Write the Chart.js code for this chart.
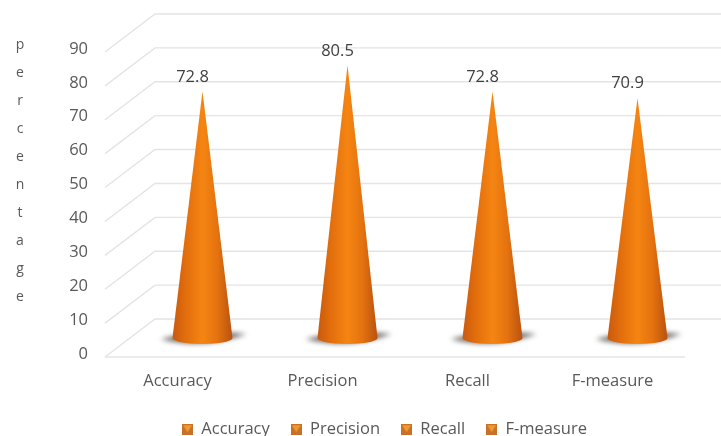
<!DOCTYPE html>
<html>
<head>
<meta charset="utf-8">
<style>
  html, body { margin: 0; padding: 0; background: #fff; }
  canvas { display: block; }
</style>
<script src="https://cdn.jsdelivr.net/npm/chart.js@4"></script>
</head>
<body>
<canvas id="grafica" width="721" height="436"></canvas>
<script>
const categorias = ["Accuracy", "Precision", "Recall", "F-measure"];
const valores = [72.8, 80.5, 72.8, 70.9];
const etiquetas = ["72.8", "80.5", "72.8", "70.9"];
const letrasEje = ["p", "e", "r", "c", "e", "n", "t", "a", "g", "e"];

const colorTexto = "#595959";
const colorGrid = "#e4e4e4";
const fuente = '"Open Sans", sans-serif';

// icono de la leyenda
function crearIcono() {
  const c = document.createElement("canvas");
  c.width = 11;
  c.height = 11;
  const g = c.getContext("2d");
  g.fillStyle = "#c9702a";
  g.fillRect(0, 0, 11, 11);
  g.fillStyle = "#f09a2c";
  g.beginPath();
  g.moveTo(1, 1);
  g.lineTo(10, 1);
  g.lineTo(5.5, 8);
  g.closePath();
  g.fill();
  return c;
}
const icono = crearIcono();

// la leyenda del original no esta centrada
const moverLeyenda = {
  id: "moverLeyenda",
  afterLayout(chart) {
    chart.legend.left += 42;
    chart.legend.right += 42;
  },
};

// paredes 3D: lineas de grid con profundidad
const paredes = {
  id: "paredes",
  beforeDatasetsDraw(chart) {
    const { ctx, scales } = chart;
    const dx = 50, dy = -38;
    const izq = scales.x.left, der = scales.x.right;
    ctx.save();
    ctx.strokeStyle = colorGrid;
    ctx.lineWidth = 1.4;
    scales.y.ticks.forEach((t) => {
      const y = scales.y.getPixelForValue(t.value);
      ctx.beginPath();
      ctx.moveTo(izq, y);
      ctx.lineTo(izq + dx, y + dy);
      ctx.lineTo(der + dx, y + dy);
      ctx.stroke();
    });
    const y0 = scales.y.getPixelForValue(0);
    ctx.beginPath();
    ctx.moveTo(izq, y0);
    ctx.lineTo(der, y0);
    ctx.stroke();
    ctx.restore();
  },
};

// conos encima de las barras (las barras son transparentes)
const conos = {
  id: "conos",
  afterDatasetsDraw(chart) {
    const { ctx } = chart;
    const dx = 25, dy = -19;
    chart.getDatasetMeta(0).data.forEach((barra, i) => {
      const cx = barra.x + dx;
      const tip = barra.y + dy;
      const base = barra.base + dy;
      const r = barra.width / 2;
      const ry = 6;

      // sombra
      ctx.save();
      ctx.filter = "blur(2.5px)";
      ctx.fillStyle = "#6f6a66";
      ctx.beginPath();
      ctx.moveTo(cx - r - 12, base + 1);
      ctx.quadraticCurveTo(cx, base - 9, cx + r + 14, base - 4);
      ctx.quadraticCurveTo(cx, base + 12, cx - r - 12, base + 1);
      ctx.fill();
      ctx.restore();

      // cuerpo
      const grad = ctx.createLinearGradient(cx - r, 0, cx + r, 0);
      grad.addColorStop(0, "#c9590f");
      grad.addColorStop(0.2, "#e06c0c");
      grad.addColorStop(0.5, "#f58512");
      grad.addColorStop(0.75, "#e4720f");
      grad.addColorStop(1, "#b9520f");
      ctx.fillStyle = grad;
      ctx.beginPath();
      ctx.moveTo(cx, tip);
      ctx.lineTo(cx + r, base);
      ctx.ellipse(cx, base, r, ry, 0, 0, Math.PI);
      ctx.closePath();
      ctx.fill();

      // etiqueta de valor
      ctx.fillStyle = "#404040";
      ctx.font = "16.5px " + fuente;
      ctx.textAlign = "center";
      ctx.textBaseline = "middle";
      ctx.fillText(etiquetas[i], cx - 10, tip - 14);
    });
  },
};

// titulo vertical letra por letra
const tituloEje = {
  id: "tituloEje",
  afterDraw(chart) {
    const { ctx } = chart;
    ctx.save();
    ctx.fillStyle = colorTexto;
    ctx.font = "14px " + fuente;
    ctx.textAlign = "center";
    ctx.textBaseline = "middle";
    letrasEje.forEach((letra, i) => {
      ctx.fillText(letra, 20, 45 + i * 28);
    });
    ctx.restore();
  },
};

function configuracionDeLaGrafica() {
  return {
    type: "bar",
    data: {
      labels: categorias,
      datasets: [
        {
          label: "percentage",
          data: valores,
          backgroundColor: "transparent",
          categoryPercentage: 1,
          barPercentage: 0.414,
        },
      ],
    },
    plugins: [moverLeyenda, paredes, conos, tituloEje],
    options: {
      responsive: false,
      animation: false,
      layout: { padding: { top: 52, right: 36, left: 0, bottom: -12 } },
      scales: {
        y: {
          min: 0,
          max: 90,
          afterFit(eje) { eje.width = 105; },
          ticks: {
            stepSize: 10,
            color: colorTexto,
            padding: 9,
            labelOffset: -3,
            font: { family: fuente, size: 16.5 },
          },
          grid: { display: false },
          border: { display: false },
        },
        x: {
          afterFit(eje) { eje.height = 43.5; },
          ticks: {
            color: colorTexto,
            padding: 6,
            maxRotation: 0,
            font: { family: fuente, size: 16.5 },
          },
          grid: { display: false },
          border: { display: false },
        },
      },
      plugins: {
        tooltip: { enabled: false },
        legend: {
          position: "bottom",
          labels: {
            color: colorTexto,
            usePointStyle: true,
            pointStyleWidth: 11,
            padding: 21,
            font: { family: fuente, size: 16.5 },
            generateLabels() {
              return categorias.map((nombre) => ({
                text: nombre,
                pointStyle: icono,
                fontColor: colorTexto,
                hidden: false,
                lineWidth: 0,
              }));
            },
          },
        },
      },
    },
  };
}

const grafica = new Chart(document.querySelector("#grafica"), configuracionDeLaGrafica());
</script>
</body>
</html>
